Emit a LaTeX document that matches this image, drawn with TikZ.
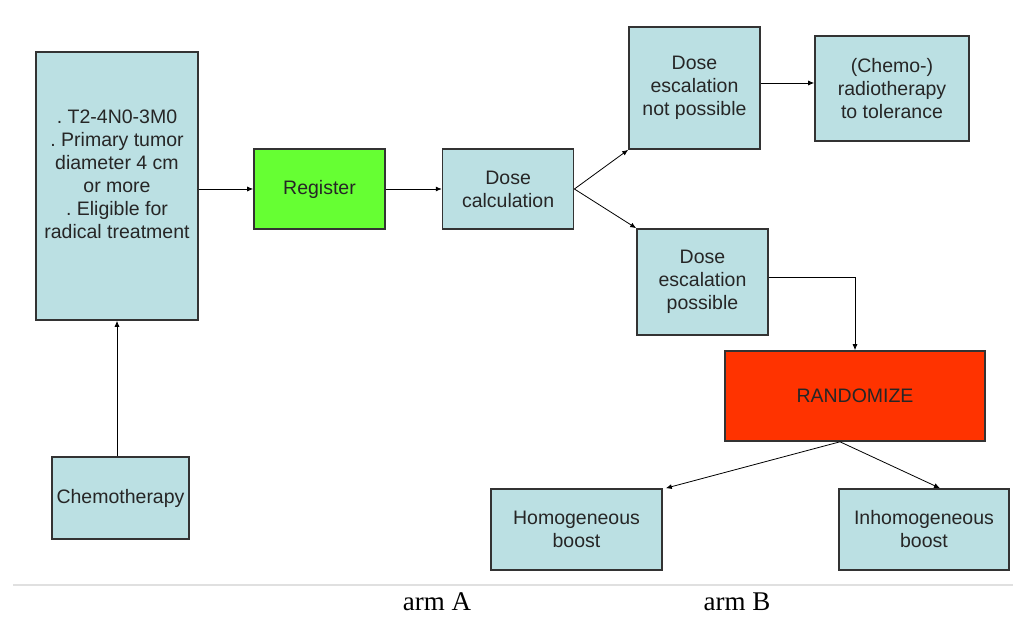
\documentclass[tikz,border=0pt]{standalone}
\usepackage{fontspec}
\setmainfont{Liberation Serif}
\setsansfont{Liberation Sans}
\usetikzlibrary{arrows.meta,positioning}
\frenchspacing

\definecolor{boxblue}{RGB}{187,224,227}
\definecolor{regreen}{RGB}{102,255,51}
\definecolor{randred}{RGB}{255,51,0}

\tikzset{
  stepbox/.style={draw=black!80,line width=1.6pt,fill=boxblue,align=center,
    inner sep=2pt,text=black!85,
    font=\sffamily\fontsize{19.5}{23}\selectfont},
  arm/.style={font=\fontsize{27}{29}\selectfont,anchor=base,inner sep=0pt}
}

\begin{document}
\begin{tikzpicture}[x=1pt,y=-1pt,>={Latex[length=6pt,width=5pt]},thick]

                \useasboundingbox (0,0) rectangle (1013,617);

                \node[stepbox,minimum width=162pt,minimum height=268pt] (crit) at (117,186)
                  {. T2-4N0-3M0\\. Primary tumor\\diameter 4 cm\\or more\\. Eligible for\\radical treatment\\ \mbox{}};

                \node[stepbox,minimum width=137pt,minimum height=82pt] (chemo) at (120.5,498) {Chemotherapy};

                \node[stepbox,fill=regreen,minimum width=131pt,minimum height=80pt] (reg) at (319.5,189) {Register};

                \node[stepbox,minimum width=131pt,minimum height=80pt] (calc) [right=56pt of reg] {Dose\\calculation};

                \node[stepbox,minimum width=131pt,minimum height=122pt] (notposs) at (694.5,88) {Dose\\escalation\\not possible};

                \node[stepbox,minimum width=154pt,minimum height=105pt] (chemort) at (892,88.5) {(Chemo-)\\radiotherapy\\to tolerance};

                \node[stepbox,minimum width=131pt,minimum height=106pt] (poss) at (702.5,282) {Dose\\escalation\\possible};

                \node[stepbox,fill=randred,minimum width=260pt,minimum height=90pt] (rand) at (855,396) {RANDOMIZE};

                \node[stepbox,minimum width=171pt,minimum height=81pt] (homo) at (576.5,529.5) {Homogeneous\\boost};

                \node[stepbox,minimum width=170pt,minimum height=81pt] (inhomo) at (924,529.5) {Inhomogeneous\\boost};

                

                \draw[->] (chemo.north -| crit.south) -- (crit.south);

                \draw[->] (crit.east |- reg.west) -- (reg.west);

                \draw[->] (reg) -- (calc);

                \draw[->] (calc.east) -- (notposs.south west);

                \draw[->] (calc.east) -- (poss.north west);

                \draw[->] ([yshift=5pt]notposs.east) -- ([yshift=5pt]notposs.east -| chemort.west);

                \draw[->] ([yshift=5pt]poss.east) -| (rand.north);

                \draw[->] ([xshift=-15pt]rand.south) -- ([xshift=3pt]homo.north east);

                \draw[->] ([xshift=-15pt]rand.south) -- ([xshift=16pt]inhomo.north);

                

                \draw[black!12,line width=2pt] (13,585) -- (1013,585);

                \node[arm] (armA) at (437,610) {arm A};

                \node[arm] (armB) at (737,610) {arm B};

            \end{tikzpicture}
\end{document}
